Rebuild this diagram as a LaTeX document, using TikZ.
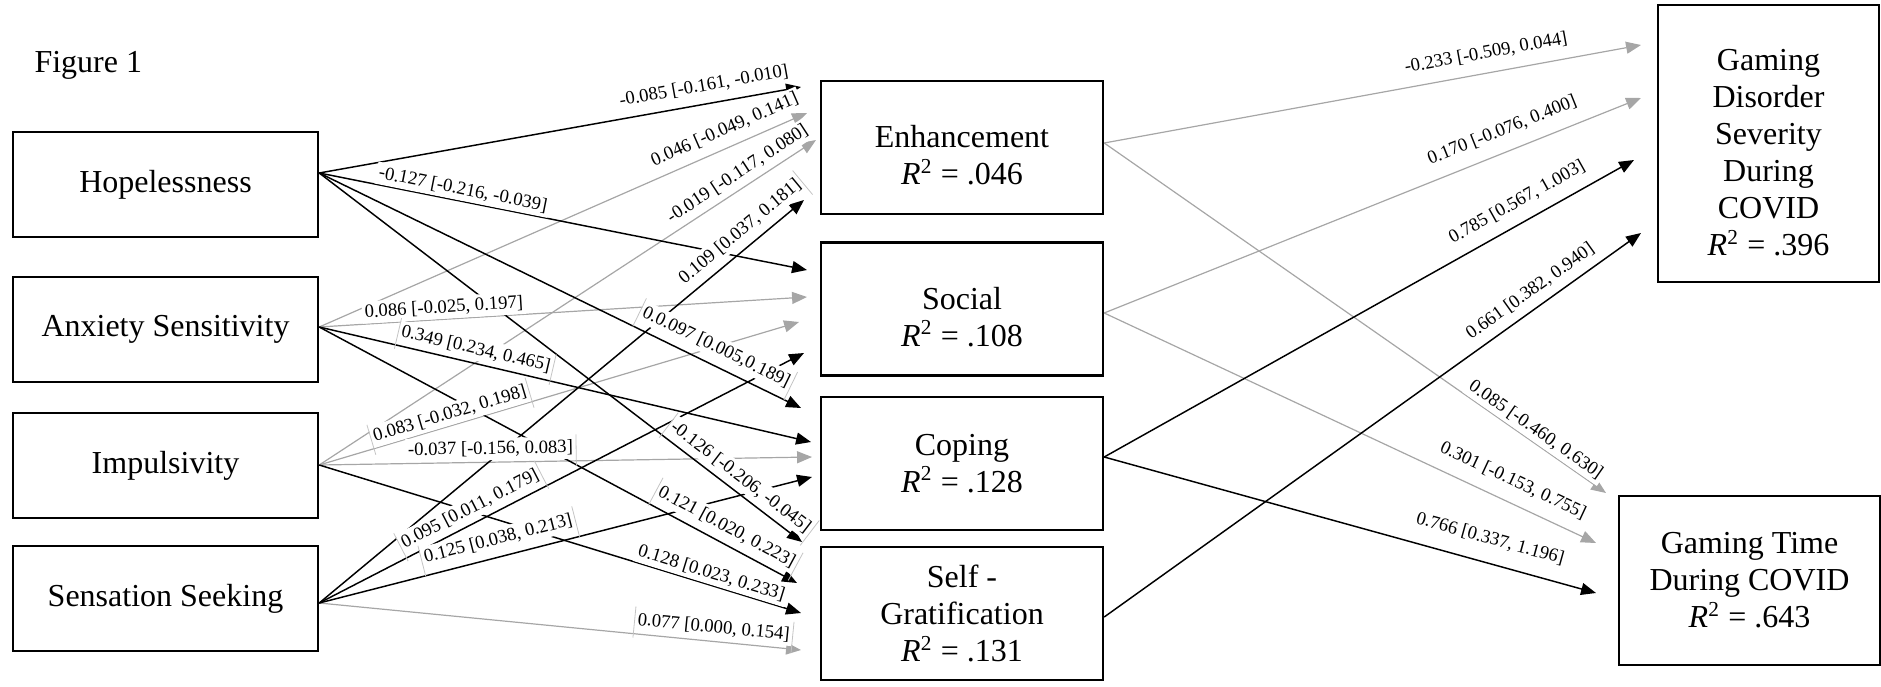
\documentclass[tikz,border=0pt]{standalone}
\usepackage{fontspec}
\setmainfont{Liberation Serif}
\usetikzlibrary{arrows.meta,calc}
\definecolor{lgray}{HTML}{A6A6A6}
\definecolor{bgray}{HTML}{C4C4C4}
\newcommand{\Rsq}{\textit{R}\textsuperscript{2}}
\newcommand{\txtdrop}[1]{\rule{0pt}{\dimexpr 8.2pt+#1*2\relax}}
\tikzset{
  box/.style={draw=black, line width=0.9pt, align=center, inner sep=0pt,
    font=\fontsize{12}{13.9}\selectfont},
  lbox/.style={box, minimum width=114.4pt, minimum height=39.4pt},
  mbox/.style={box, minimum width=105.75pt, minimum height=49.9pt},
  figlab/.style={font=\fontsize{12}{14}\selectfont, anchor=base west, inner sep=0pt},
  sig/.style={draw=black, line width=0.55pt, -{Triangle[length=5.6pt,width=4.5pt]}},
  ns/.style={draw=lgray, line width=0.45pt, -{Triangle[length=5.6pt,width=4.5pt]}},
  lab/.style={fill=white, inner xsep=1pt, inner ysep=1.2pt, sloped,
    font=\fontsize{7}{8}\selectfont},
  lbord/.style={draw=bgray, line width=0.3pt, shorten <=-0.6pt, shorten >=-2.4pt},
}
\begin{document}
\begin{tikzpicture}[x=0.375pt,y=-0.375pt]
\useasboundingbox (0,0) rectangle (1881,686);
\node[figlab] (fig) at (34,72) {Figure 1};
% predictors
\node[lbox] (hop) at (165.5,184.5) {Hopelessness};
\node[lbox] (anx) at (165.5,329.5) {Anxiety Sensitivity};
\node[lbox] (imp) at (165.5,465.5) {Impulsivity};
\node[lbox] (sen) at (165.5,598.5) {Sensation Seeking};
% mediators
\node[mbox] (enh) at (962,147.5) {\txtdrop{3pt}Enhancement\\\Rsq{} = .046};
\node[mbox] (soc) at (962,309) {\txtdrop{3pt}Social\\\Rsq{} = .108};
\node[mbox] (cop) at (962,463.5) {Coping\\\Rsq{} = .128};
\node[mbox] (sg) at (962,613.5) {Self -\\Gratification\\\Rsq{} = .131};
% outcomes
\node[box, minimum width=82.9pt, minimum height=103.9pt] (gds) at (1768.5,143.5)
  {\txtdrop{3.4pt}Gaming\\Disorder\\Severity\\During\\COVID\\\Rsq{} = .396};
\node[box, minimum width=97.9pt, minimum height=63.4pt] (gt) at (1749.5,580.5)
  {Gaming Time\\During COVID\\\Rsq{} = .643};
% start points
\coordinate (hO) at ($(hop.east)+(0,-11.5)$);
\coordinate (aO) at ($(anx.east)+(0,-2.5)$);
\coordinate (iO) at ($(imp.east)+(0,-0.5)$);
\coordinate (sO) at ($(sen.east)+(0,4.5)$);
\coordinate (eO) at ($(enh.east)+(0,-4.5)$);
\coordinate (soO) at ($(soc.east)+(0,4)$);
\coordinate (cO) at ($(cop.east)+(0,-6.5)$);
\coordinate (gO) at ($(sg.east)+(0,3.5)$);
% arrow tips
\coordinate (tE1) at (801,87);  \coordinate (tE2) at (807,113);
\coordinate (tE3) at (816,140); \coordinate (tE4) at (804,200);
\coordinate (tS1) at (807,270); \coordinate (tS2) at (807,297);
\coordinate (tS3) at (799,322); \coordinate (tS4) at (804,353);
\coordinate (tC1) at (801,408); \coordinate (tC2) at (811,442);
\coordinate (tC3) at (812,457); \coordinate (tC4) at (812,477);
\coordinate (tG1) at (802,542); \coordinate (tG2) at (797,583);
\coordinate (tG3) at (801,613); \coordinate (tG4) at (801,650);
\coordinate (tD1) at (1641,45);  \coordinate (tD2) at (1641,98);
\coordinate (tD3) at (1634,160); \coordinate (tD4) at (1641,233);
\coordinate (tT1) at (1606,493); \coordinate (tT2) at (1596,543);
\coordinate (tT3) at (1596,593);
% non-significant paths
\draw[ns] (aO) -- (tE2);
\draw[ns] (iO) -- (tE3);
\draw[ns] (aO) -- (tS2);
\draw[ns] (iO) -- (tS3);
\draw[ns] (iO) -- (tC3);
\draw[ns] (sO) -- (tG4);
\draw[ns] (eO) -- (tD1);
\draw[ns] (soO) -- (tD2);
\draw[ns] (eO) -- (tT1);
\draw[ns] (soO) -- (tT2);
% significant paths
\draw[sig] (hO) -- (tE1);
\draw[sig] (sO) -- (tE4);
\draw[sig] (hO) -- (tS1);
\draw[sig] (sO) -- (tS4);
\draw[sig] (hO) -- (tC1);
\draw[sig] (aO) -- (tC2);
\draw[sig] (sO) -- (tC4);
\draw[sig] (hO) -- (tG1);
\draw[sig] (aO) -- (tG2);
\draw[sig] (iO) -- (tG3);
\draw[sig] (cO) -- (tD3);
\draw[sig] (gO) -- (tD4);
\draw[sig] (cO) -- (tT3);
% labels
\path (hO) -- (tE1) node[lab, pos=.805, above=2.4pt] (l1) {-0.085 [-0.161, -0.010]};
\path (aO) -- (tE2) node[lab, pos=.846, above=2.3pt] (l2) {0.046 [-0.049, 0.141]};
\path (iO) -- (tE3) node[lab, pos=.858, above=1.1pt] (l3) {-0.019 [-0.117, 0.080]};
\path (sO) -- (tE4) node[lab, pos=.89, above=1.9pt] (l4) {0.109 [0.037, 0.181]};
\path (hO) -- (tS1) node[lab, pos=.29, above=0pt] (l5) {-0.127 [-0.216, -0.039]};
\path (aO) -- (tS2) node[lab, pos=.257, above=0pt] (l6) {0.086 [-0.025, 0.197]};
\path (iO) -- (tS3) node[lab, pos=.279, above=0pt] (l7) {0.083 [-0.032, 0.198]};
\path (sO) -- (tS4) node[lab, pos=.325, above=1.1pt] (l8) {0.095 [0.011, 0.179]};
\path (hO) -- (tC1) node[lab, pos=.808, above=2.2pt] (l9) {0.0.097 [0.005,0.189]};
\path (aO) -- (tC2) node[lab, pos=.312, above=0.9pt] (l10) {0.349 [0.234, 0.465]};
\path (iO) -- (tC3) node[lab, pos=.348, above=0.6pt] (l11) {-0.037 [-0.156, 0.083]};
\path (sO) -- (tC4) node[lab, pos=.372, above=2.3pt] (l12) {0.125 [0.038, 0.213]};
\path (hO) -- (tG1) node[lab, pos=.855, above=1pt] (l13) {-0.126 [-0.206, -0.045]};
\path (aO) -- (tG2) node[lab, pos=.837, above=1.7pt] (l14) {0.121 [0.020, 0.223]};
\path (iO) -- (tG3) node[lab, pos=.807, above=0pt] (l15) {0.128 [0.023, 0.233]};
\path (sO) -- (tG4) node[lab, pos=.816, above=0.9pt] (l16) {0.077 [0.000, 0.154]};
\path (eO) -- (tD1) node[lab, pos=.718, above=3.1pt] (l17) {-0.233 [-0.509, 0.044]};
\path (soO) -- (tD2) node[lab, pos=.756, above=3.7pt] (l18) {0.170 [-0.076, 0.400]};
\path (cO) -- (tD3) node[lab, pos=.798, above=3.3pt] (l19) {0.785 [0.567, 1.003]};
\path (gO) -- (tD4) node[lab, pos=.812, above=2pt] (l20) {0.661 [0.382, 0.940]};
\path (eO) -- (tT1) node[lab, pos=.847, above=0pt] (l21) {0.085 [-0.460, 0.630]};
\path (soO) -- (tT2) node[lab, pos=.813, above=3.6pt] (l22) {0.301 [-0.153, 0.755]};
\path (cO) -- (tT3) node[lab, pos=.772, above=4.6pt] (l23) {0.766 [0.337, 1.196]};
% faint text-box edges
\draw[lbord] (l4.north east) -- (l4.south east);
\foreach \n in {l7,l8,l9,l10,l12,l13,l14,l16}{
  \draw[lbord] (\n.north west) -- (\n.south west);
  \draw[lbord] (\n.north east) -- (\n.south east);
}
\draw[lbord] (l11.north east) -- (l11.south east);
\end{tikzpicture}
\end{document}
